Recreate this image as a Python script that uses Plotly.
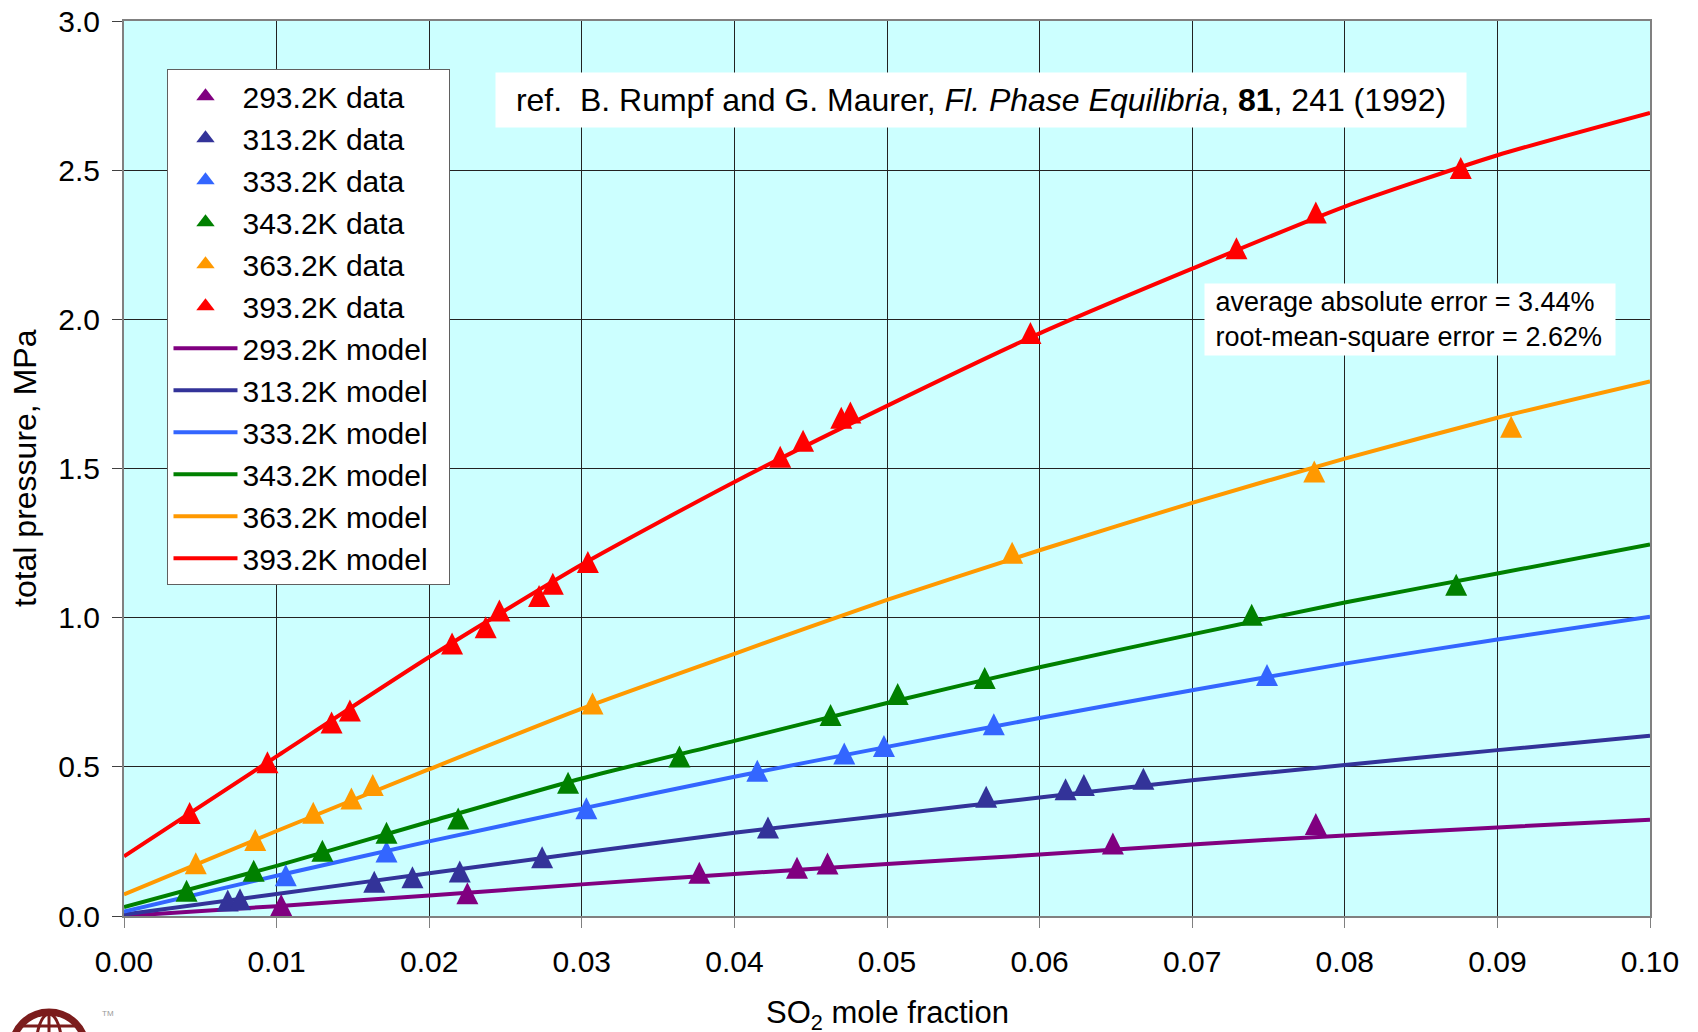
import plotly.graph_objects as go

# ---------------- data ----------------
temps = ["293.2K", "313.2K", "333.2K", "343.2K", "363.2K", "393.2K"]
colors = ["#800080", "#333399", "#3366FF", "#008000", "#FF9900", "#FF0000"]

# experimental data (SO2 mole fraction, total pressure MPa)
x_293 = [0.0103, 0.0225, 0.0377, 0.0441, 0.0461, 0.0648, 0.0781]
p_293 = [0.037, 0.076, 0.145, 0.162, 0.176, 0.243, 0.308]

x_313 = [0.0068, 0.0076, 0.0164, 0.0189, 0.0220, 0.0274, 0.0422, 0.0565, 0.0617, 0.0629, 0.0668]
p_313 = [0.052, 0.056, 0.115, 0.130, 0.149, 0.197, 0.297, 0.400, 0.425, 0.439, 0.460]

x_333 = [0.0106, 0.0172, 0.0303, 0.0415, 0.0472, 0.0498, 0.0570, 0.0749]
p_333 = [0.137, 0.216, 0.361, 0.487, 0.545, 0.570, 0.643, 0.808]

x_343 = [0.0041, 0.0085, 0.0130, 0.0172, 0.0219, 0.0291, 0.0364, 0.0463, 0.0507, 0.0564, 0.0739, 0.0873]
p_343 = [0.085, 0.152, 0.219, 0.279, 0.327, 0.447, 0.535, 0.674, 0.744, 0.798, 1.010, 1.110]

x_363 = [0.0047, 0.0086, 0.0124, 0.0149, 0.0163, 0.0307, 0.0582, 0.0780, 0.0909]
p_363 = [0.177, 0.255, 0.346, 0.394, 0.439, 0.712, 1.218, 1.490, 1.640]

x_393 = [0.0043, 0.0094, 0.0136, 0.0148, 0.0215, 0.0237, 0.0246, 0.0272, 0.0281, 0.0304,
         0.0430, 0.0445, 0.0470, 0.0476, 0.0594, 0.0729, 0.0781, 0.0876]
p_393 = [0.345, 0.515, 0.649, 0.689, 0.913, 0.968, 1.024, 1.073, 1.114, 1.187,
         1.539, 1.593, 1.670, 1.688, 1.954, 2.238, 2.358, 2.507]

# model curves
x_model = [0.0, 0.01, 0.02, 0.03, 0.04, 0.05, 0.06, 0.07, 0.08, 0.09, 0.10]
m_293 = [0.000, 0.033, 0.069, 0.106, 0.141, 0.174, 0.206, 0.240, 0.270, 0.297, 0.323]
m_313 = [0.005, 0.074, 0.143, 0.212, 0.279, 0.338, 0.397, 0.455, 0.506, 0.556, 0.604]
m_333 = [0.015, 0.135, 0.250, 0.360, 0.467, 0.567, 0.664, 0.757, 0.846, 0.927, 1.003]
m_343 = [0.030, 0.168, 0.316, 0.461, 0.587, 0.714, 0.834, 0.944, 1.051, 1.148, 1.245]
m_363 = [0.072, 0.285, 0.492, 0.695, 0.879, 1.060, 1.226, 1.385, 1.533, 1.670, 1.792]
m_393 = [0.200, 0.535, 0.868, 1.178, 1.455, 1.710, 1.953, 2.170, 2.378, 2.550, 2.692]

x_ticks = [0.0, 0.01, 0.02, 0.03, 0.04, 0.05, 0.06, 0.07, 0.08, 0.09, 0.10]
x_ticklabels = ["0.00", "0.01", "0.02", "0.03", "0.04", "0.05", "0.06", "0.07", "0.08", "0.09", "0.10"]
y_ticks = [0.0, 0.5, 1.0, 1.5, 2.0, 2.5, 3.0]
y_ticklabels = ["0.0", "0.5", "1.0", "1.5", "2.0", "2.5", "3.0"]

ref_text = ("ref.\u00a0\u00a0B. Rumpf and G. Maurer, <i>Fl. Phase Equilibria</i>, "
            "<b>81</b>, 241 (1992)")
err_text = ("\u00a0average absolute error = 3.44%<br>"
            "\u00a0root-mean-square error = 2.62%")

# ---------------- figure ----------------
FONT = "Liberation Sans, Arial, sans-serif"
# page body has an 8px margin, so the figure is 8px smaller than the window
W, H = 1690, 1024
ML, MR, MT, MB = 116, 48, 13, 116
MSIZE = 22

data_x = [x_293, x_313, x_333, x_343, x_363, x_393]
data_p = [p_293, p_313, p_333, p_343, p_363, p_393]
models = [m_293, m_313, m_333, m_343, m_363, m_393]

fig = go.Figure()
for i, t in enumerate(temps):
    fig.add_trace(go.Scatter(
        x=x_model, y=models[i], mode="lines", name=f"{t} model\u00a0\u00a0",
        legendgroup=f"m{i}", legendrank=10 + i,
        line=dict(color=colors[i], width=4, shape="spline", smoothing=0.6),
    ))
for i, t in enumerate(temps):
    # an upside-down arrow rotated 180 deg, shifted so the triangle is centred
    fig.add_trace(go.Scatter(
        x=data_x[i], y=data_p[i], mode="markers", name=f"{t} data",
        legendgroup=f"d{i}", showlegend=False,
        marker=dict(symbol="arrow-down", size=MSIZE, angle=180,
                    standoff=MSIZE / 2, color=colors[i],
                    line=dict(width=0)),
    ))
    # legend entry for the data series
    fig.add_trace(go.Scatter(
        x=[None], y=[None], mode="markers", name=f"{t} data",
        legendgroup=f"d{i}", legendrank=1 + i, showlegend=True,
        marker=dict(symbol="triangle-up", size=16, color=colors[i]),
    ))

fig.update_layout(
    width=W, height=H,
    margin=dict(l=ML, r=MR, t=MT, b=MB, autoexpand=False),
    paper_bgcolor="white",
    plot_bgcolor="#CCFFFF",
    font=dict(family=FONT, size=30, color="black"),
    showlegend=True,
    legend=dict(
        x=0.0285, y=0.946, xanchor="left", yanchor="top",
        bgcolor="white", bordercolor="#606060", borderwidth=1,
        font=dict(family=FONT, size=30, color="black"),
        itemwidth=64, traceorder="normal",
    ),
)

fig.update_xaxes(
    range=[0, 0.1], tickvals=x_ticks, ticktext=x_ticklabels,
    showgrid=True, gridcolor="#222222", gridwidth=1,
    zeroline=False, showline=True, linecolor="#808080", linewidth=2, mirror=True,
    ticks="outside", ticklen=10, tickcolor="#808080", tickwidth=1,
    tickfont=dict(family=FONT, size=30), ticklabelstandoff=8, automargin=False,
    ticklabeloverflow="allow",
)
fig.update_yaxes(
    range=[0, 3], tickvals=y_ticks, ticktext=y_ticklabels,
    showgrid=True, gridcolor="#222222", gridwidth=1,
    zeroline=False, showline=True, linecolor="#808080", linewidth=2, mirror=True,
    ticks="outside", ticklen=10, tickcolor="#404040", tickwidth=1,
    tickfont=dict(family=FONT, size=30), ticklabelstandoff=6, automargin=False,
    ticklabeloverflow="allow",
)

# axis titles
fig.add_annotation(
    x=0.5003, y=-0.1104, xref="paper", yref="paper", showarrow=False,
    text="SO<sub>2</sub> mole fraction", font=dict(family=FONT, size=31),
    xanchor="center", yanchor="middle",
)
fig.add_annotation(
    x=-0.0652, y=0.5, xref="paper", yref="paper", showarrow=False,
    text="total pressure, MPa", textangle=-90, font=dict(family=FONT, size=32),
    xanchor="center", yanchor="middle",
)
# reference box
fig.add_annotation(
    x=0.5613, y=0.9113, xref="paper", yref="paper", showarrow=False,
    text=ref_text, font=dict(family=FONT, size=32),
    bgcolor="white", borderpad=9, width=952, align="center",
    xanchor="center", yanchor="middle",
)
# error box
fig.add_annotation(
    x=0.8428, y=0.6662, xref="paper", yref="paper", showarrow=False,
    text=err_text, font=dict(family=FONT, size=27),
    bgcolor="white", borderpad=3, width=404, align="left",
    xanchor="center", yanchor="middle",
)

# small logo fragment at bottom-left (partial globe); page px -> paper
def px2paper(px, py):
    px, py = px - 8, py - 8
    return (px - ML) / (W - ML - MR), (H - MB - py) / (H - MT - MB)

cx0, cy0 = px2paper(12, 1012)
cx1, cy1 = px2paper(86, 1086)
fig.add_shape(type="circle", xref="paper", yref="paper",
              x0=cx0, y0=cy1, x1=cx1, y1=cy0,
              line=dict(color="#7B1C1C", width=7), fillcolor="rgba(0,0,0,0)")
ex0, ey0 = px2paper(36, 1014)
ex1, ey1 = px2paper(62, 1084)
fig.add_shape(type="circle", xref="paper", yref="paper",
              x0=ex0, y0=ey1, x1=ex1, y1=ey0,
              line=dict(color="#7B1C1C", width=3), fillcolor="rgba(0,0,0,0)")
lx0, ly0 = px2paper(20, 1026)
lx1, ly1 = px2paper(78, 1026)
fig.add_shape(type="line", xref="paper", yref="paper",
              x0=lx0, y0=ly0, x1=lx1, y1=ly1, line=dict(color="#7B1C1C", width=3))
vx0, vy0 = px2paper(49, 1012)
vx1, vy1 = px2paper(49, 1040)
fig.add_shape(type="line", xref="paper", yref="paper",
              x0=vx0, y0=vy0, x1=vx1, y1=vy1, line=dict(color="#7B1C1C", width=3))
tx, ty = px2paper(100, 1020)
fig.add_annotation(x=tx, y=ty, xref="paper", yref="paper", showarrow=False,
                   text="TM", font=dict(family=FONT, size=8, color="#999999"))

fig.write_html("out.html")
